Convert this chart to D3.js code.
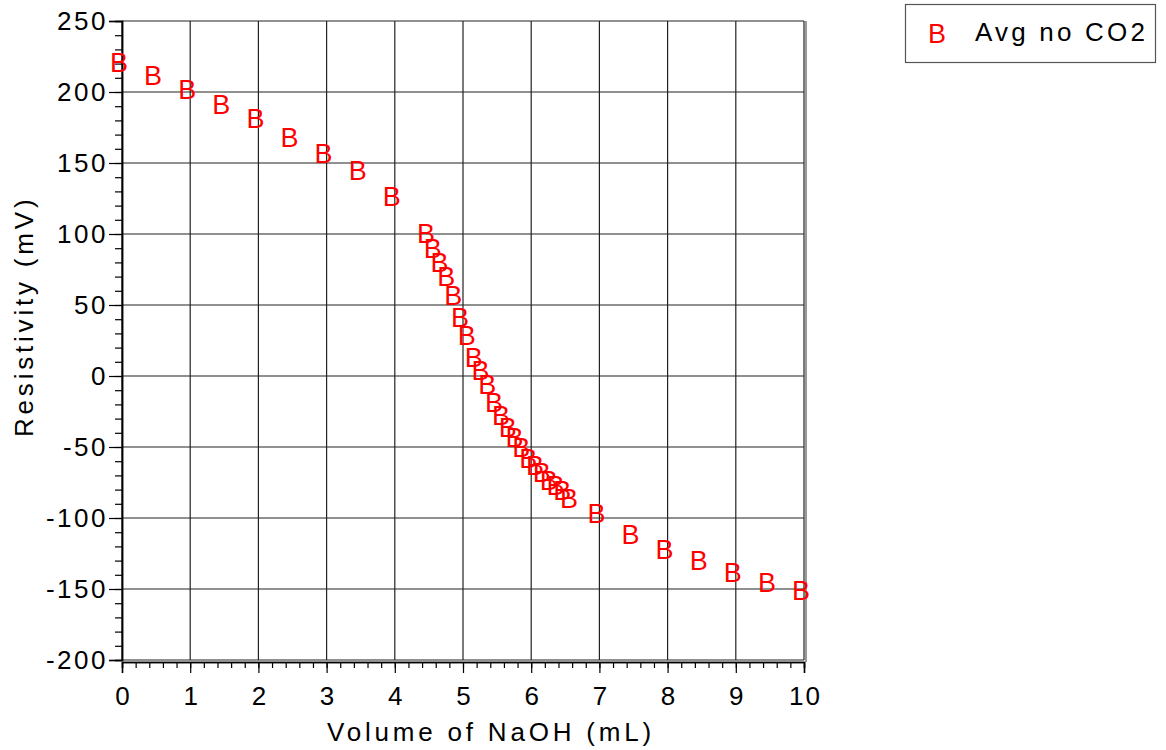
<!DOCTYPE html>
<html>
<head>
<meta charset="utf-8">
<script src="https://cdn.jsdelivr.net/npm/d3@7"></script>
<style>
  body { margin: 0; background: #fff; }
  svg text { font-family: "Liberation Sans", Arial, sans-serif; }
</style>
</head>
<body>
<div id="container"></div>
<script>
let w = 1166;
let h = 750;

// data
let volume = [0, 0.5, 1, 1.5, 2, 2.5, 3, 3.5, 4,
  4.5, 4.6, 4.7, 4.8, 4.9, 5.0, 5.1, 5.2, 5.3, 5.4, 5.5, 5.6, 5.7, 5.8, 5.9,
  6.0, 6.1, 6.2, 6.3, 6.4, 6.5, 6.6,
  7, 7.5, 8, 8.5, 9, 9.5, 10];
let resistivity = [221, 212, 202, 191.5, 182, 168, 157, 145, 127,
  100.5, 90.4, 80, 70.4, 57.3, 41.8, 28.9, 13.6, 4.2, -5.8, -18, -27.5, -35.7, -42.7, -50.2,
  -58, -62.7, -67.4, -73.2, -76.8, -80.3, -86.1,
  -96.6, -111.2, -121.5, -129.6, -137.9, -145, -150.4];
let xTicks = [0, 1, 2, 3, 4, 5, 6, 7, 8, 9, 10];
let yTicks = [-200, -150, -100, -50, 0, 50, 100, 150, 200, 250];
let seriesName = "Avg no CO2";

let pLeft = 122, pRight = 804, pTop = 21, pBottom = 660;

let viz = d3.select("#container")
  .append("svg")
    .attr("width", w)
    .attr("height", h);

let xScale = d3.scaleLinear().domain([0, 10]).range([pLeft, pRight]);
let yScale = d3.scaleLinear().domain([-200, 250]).range([pBottom, pTop]);

// grid
let grid = viz.append("g");
grid.selectAll(".vgrid").data(xTicks).enter().append("line")
  .attr("x1", d => xScale(d)).attr("x2", d => xScale(d))
  .attr("y1", pTop).attr("y2", pBottom)
  .attr("stroke", "#222").attr("stroke-width", 1.2);
grid.selectAll(".hgrid").data(yTicks).enter().append("line")
  .attr("x1", pLeft).attr("x2", pRight)
  .attr("y1", d => yScale(d)).attr("y2", d => yScale(d))
  .attr("stroke", "#222").attr("stroke-width", 1.2);
// right edge double line
viz.append("line")
  .attr("x1", pRight + 2).attr("x2", pRight + 2)
  .attr("y1", pTop).attr("y2", pBottom + 2)
  .attr("stroke", "#555").attr("stroke-width", 1.2);

// plain hyphen for negatives, like the original
let fmt = d => String(d);

// y axis
let yMinor = viz.append("g").attr("transform", "translate(" + pLeft + ",0)")
  .call(d3.axisLeft(yScale).tickValues(d3.range(-200, 251, 10)).tickSize(7).tickFormat(""));
let yAxis = viz.append("g").attr("transform", "translate(" + pLeft + ",0)")
  .call(d3.axisLeft(yScale).tickValues(yTicks).tickSize(13).tickPadding(1).tickFormat(fmt));
// x axis
let xMinor = viz.append("g").attr("transform", "translate(0," + (pBottom + 2) + ")")
  .call(d3.axisBottom(xScale).tickValues(d3.range(0, 10.01, 0.2)).tickSize(6).tickFormat(""));
let xAxis = viz.append("g").attr("transform", "translate(0," + (pBottom + 2) + ")")
  .call(d3.axisBottom(xScale).tickValues(xTicks).tickSize(11).tickPadding(14).tickFormat(fmt));

viz.selectAll(".domain").attr("stroke", "#000").attr("stroke-width", 1.5);
viz.selectAll(".tick line").attr("stroke", "#000").attr("stroke-width", 1.2);
yAxis.selectAll("text")
  .attr("font-size", 26).attr("letter-spacing", 2.5)
  .attr("fill", "#000").attr("font-family", "Liberation Sans, Arial, sans-serif");
xAxis.selectAll("text")
  .attr("font-size", 26).attr("letter-spacing", 2)
  .attr("dx", 1)
  .attr("fill", "#000").attr("font-family", "Liberation Sans, Arial, sans-serif");

// axis titles
viz.append("text")
  .attr("x", 327).attr("y", 741)
  .attr("font-size", 26).attr("letter-spacing", 3.8)
  .text("Volume of NaOH (mL)");
viz.append("text")
  .attr("transform", "translate(33,437) rotate(-90)")
  .attr("font-size", 26).attr("letter-spacing", 3.8)
  .text("Resistivity (mV)");

// markers: letter B
viz.append("g").selectAll("text")
  .data(volume.map((v, i) => ({x: v, y: resistivity[i]})))
  .enter().append("text")
    .attr("x", d => xScale(d.x) - 3)
    .attr("y", d => yScale(d.y) + 10)
    .attr("text-anchor", "middle")
    .attr("font-family", "Noto Sans, Open Sans, sans-serif")
    .attr("font-size", 27)
    .attr("fill", "#ff0000")
    .text("B");

// legend
let legend = viz.append("g");
legend.append("rect")
  .attr("x", 905.5).attr("y", 4.5).attr("width", 250).attr("height", 58)
  .attr("fill", "#fff").attr("stroke", "#555").attr("stroke-width", 1.2);
legend.append("text")
  .attr("x", 937).attr("y", 43)
  .attr("text-anchor", "middle")
  .attr("font-family", "Noto Sans, Open Sans, sans-serif")
  .attr("font-size", 27).attr("fill", "#ff0000")
  .text("B");
legend.append("text")
  .attr("x", 975).attr("y", 41)
  .attr("font-size", 26).attr("letter-spacing", 3.2)
  .text(seriesName);
</script>
</body>
</html>
